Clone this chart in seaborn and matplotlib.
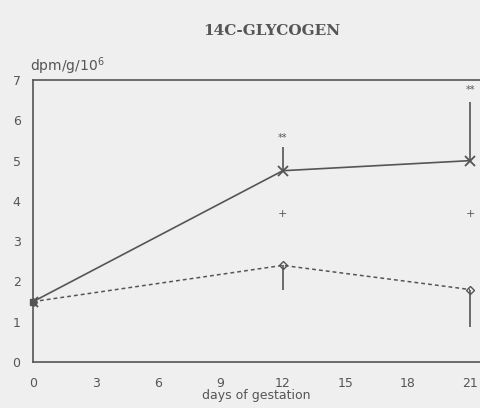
import numpy as np
import pandas as pd
import matplotlib
matplotlib.use('Agg')
import matplotlib.pyplot as plt
import seaborn as sns

# ---- data ----
days = [0, 12, 21]
treated = [1.5, 4.75, 5.0]          # solid line
treated_err_up = [0.0, 0.6, 1.45]
control = [1.5, 2.4, 1.8]           # dashed line
control_err_down = [0.0, 0.6, 0.92]
star_days = [12, 21]
star_y = [5.56, 6.75]
dagger_days = [12, 21]
dagger_y = [3.67, 3.67]
xticks = [0, 3, 6, 9, 12, 15, 18, 21]
yticks = [0, 1, 2, 3, 4, 5, 6, 7]

sns.set_theme(style='white')
plt.rcParams['font.family'] = ['DejaVu Sans']
ink = '#555555'
bg = '#efefef'

df = pd.DataFrame({'day': days * 2,
                   'value': treated + control,
                   'group': ['treated'] * 3 + ['control'] * 3})

fig = plt.figure(figsize=(4.8, 4.08), dpi=100, facecolor=bg)
ax = fig.add_axes([0.069, 0.1127, 0.931, 0.691], facecolor=bg)

sns.lineplot(data=df[df.group == 'treated'], x='day', y='value', ax=ax,
             color=ink, lw=1.2, marker='x', markersize=7, mew=1.3, mec=ink)
sns.lineplot(data=df[df.group == 'control'], x='day', y='value', ax=ax,
             color=ink, lw=1.1, linestyle=(0, (2.5, 2)), marker='D',
             markersize=4, mfc='none', mec=ink, mew=1)

ax.errorbar(days, treated, yerr=[np.zeros(3), treated_err_up], fmt='none',
            ecolor=ink, elinewidth=1.2, capsize=0)
ax.errorbar(days, control, yerr=[control_err_down, np.zeros(3)], fmt='none',
            ecolor=ink, elinewidth=1.2, capsize=0)
ax.plot([0], [1.5], marker='s', color=ink, markersize=5, clip_on=False)

for d, v in zip(star_days, star_y):
    ax.text(d, v, '**', ha='center', va='center', fontsize=7, color=ink)
for d, v in zip(dagger_days, dagger_y):
    ax.text(d, v, '+', ha='center', va='center', fontsize=8, color=ink)

ax.set_xlim(0, 21.48)
ax.set_ylim(0, 7)
ax.set_xticks(xticks)
ax.set_yticks(yticks)
ax.set_xticklabels([str(t) for t in xticks], fontsize=9, color=ink)
ax.set_yticklabels([str(t) for t in yticks], fontsize=9, color=ink)
ax.tick_params(axis='x', direction='out', length=3, color=ink, pad=8)
ax.tick_params(axis='y', direction='in', length=3, color=ink, pad=9)
ax.set_xlabel('days of gestation', fontsize=9, color=ink, labelpad=-1)
ax.set_ylabel('')

for side in ['left', 'bottom', 'top']:
    ax.spines[side].set_color(ink)
    ax.spines[side].set_linewidth(1.2)
ax.spines['right'].set_visible(False)

fig.text(0.567, 0.925, '14C-GLYCOGEN', ha='center', va='center',
         fontsize=11, fontweight='bold', color=ink, family='DejaVu Serif')
fig.text(0.063, 0.838, 'dpm/g/10$^{6}$', ha='left', va='center',
         fontsize=10, color=ink)

fig.savefig('out.png', dpi=100, facecolor=bg)
